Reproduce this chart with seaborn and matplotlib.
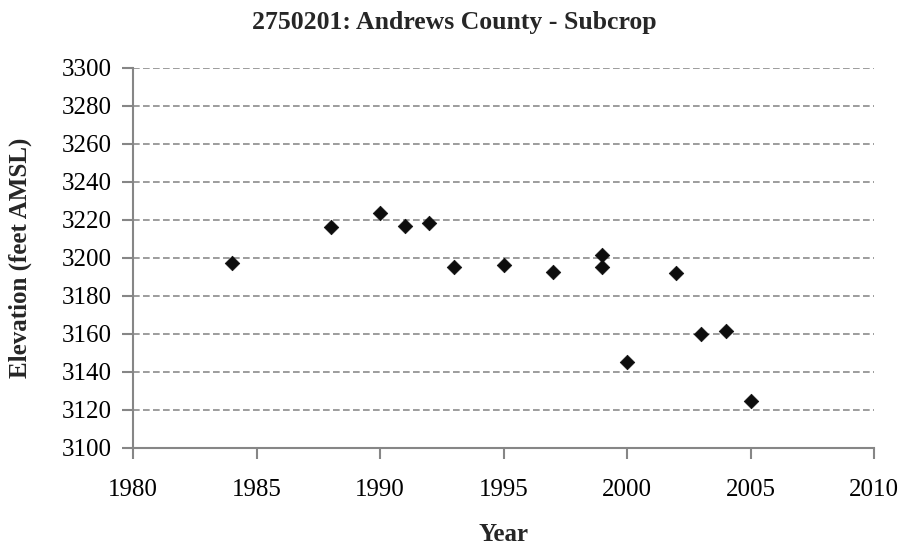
import numpy as np
import pandas as pd
import seaborn as sns
import matplotlib.pyplot as plt

# Данные
years = [1984, 1988, 1990, 1991, 1992, 1993, 1995, 1997, 1999, 1999,
         2000, 2002, 2003, 2004, 2005]
elevation = [3197.4, 3216.3, 3223.5, 3216.8, 3218.4, 3195.3, 3196.3, 3192.5,
             3201.6, 3195.3, 3145.3, 3192.1, 3160.0, 3161.8, 3124.7]
x_ticks = [1980, 1985, 1990, 1995, 2000, 2005, 2010]
y_ticks = [3100, 3120, 3140, 3160, 3180, 3200, 3220, 3240, 3260, 3280, 3300]

title = "2750201: Andrews County - Subcrop"

sns.set_theme(style="white")
plt.rcParams['font.family'] = ['Liberation Serif', 'DejaVu Serif']

df = pd.DataFrame({'Year': years, 'Elevation': elevation})

fig, ax = plt.subplots(figsize=(9.08, 5.52), dpi=100)
fig.subplots_adjust(left=133/908, right=874/908, top=1 - 68/552, bottom=1 - 448/552)

sns.scatterplot(data=df, x='Year', y='Elevation', marker='D', s=55,
                color='#0d0d0d', edgecolor='#0d0d0d', linewidth=0.5,
                ax=ax, zorder=3, legend=False)

ax.set_xlim(1980, 2010)
ax.set_ylim(3100, 3300)
ax.set_xticks(x_ticks)
ax.set_yticks(y_ticks)

# Пунктирная сетка только по Y
ax.yaxis.grid(True, linestyle=(0, (4, 2)), color='#8c8c8c', linewidth=1.2)
ax.xaxis.grid(False)
ax.set_axisbelow(True)

for side in ['top', 'right']:
    ax.spines[side].set_visible(False)
for side in ['left', 'bottom']:
    ax.spines[side].set_color('#868686')
    ax.spines[side].set_linewidth(1.5)

ax.tick_params(axis='both', which='major', direction='out', length=8, width=1.5,
               color='#868686', labelsize=18, labelcolor='black')
ax.tick_params(axis='y', pad=7)
ax.tick_params(axis='x', pad=14)
ax.tick_params(axis='both', left=True, bottom=True)

# Заголовок по центру всей фигуры (как в Excel)
fig.suptitle(title, x=0.5, y=1 - 22/552, va='center', fontsize=18.5, fontweight='bold')
ax.set_xlabel('Year', fontsize=18, fontweight='bold', labelpad=16)
ax.set_ylabel('Elevation (feet AMSL)', fontsize=18, fontweight='bold', labelpad=22)

plt.savefig('out.png', dpi=100)
